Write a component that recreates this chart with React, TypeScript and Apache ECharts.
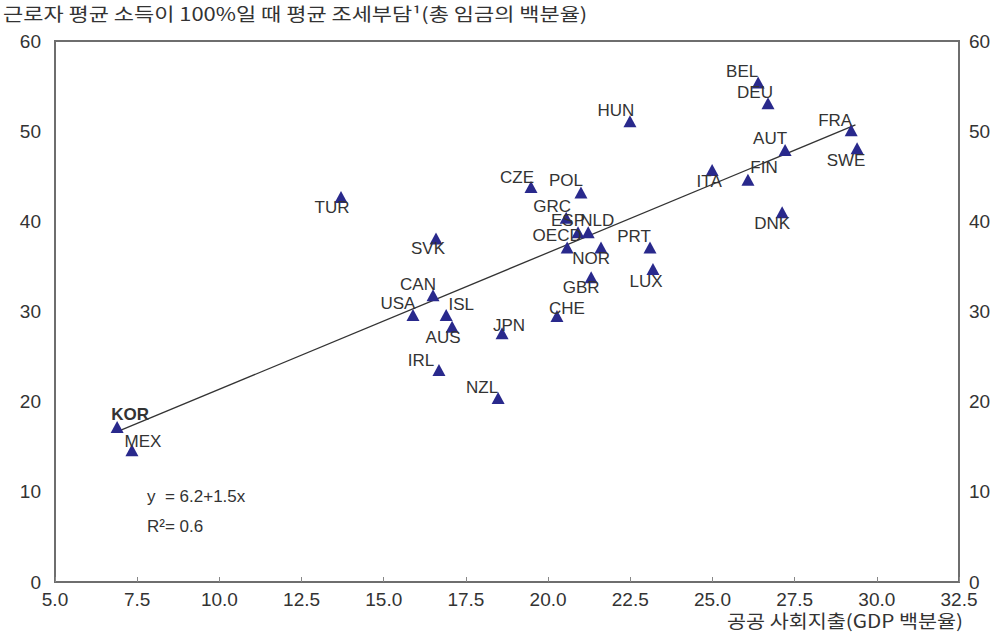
import React, { useEffect, useRef } from "react";
import * as echarts from "echarts";

const countries = ["KOR","MEX","TUR","SVK","CAN","USA","ISL","AUS","JPN","IRL","NZL","CHE","CZE","POL","GRC","ESP","NLD","OECD","NOR","PRT","LUX","GBR","HUN","BEL","DEU","FRA","SWE","AUT","ITA","FIN","DNK"];
const socialSpending = [6.89,7.34,13.70,16.59,16.50,15.89,16.90,17.08,18.60,16.68,18.48,20.27,19.48,21.0,20.55,20.91,21.22,20.58,21.61,23.10,23.19,21.31,22.49,26.39,26.69,29.22,29.40,27.21,24.99,26.08,27.12];
const taxBurden = [17.2,14.6,42.7,38.1,31.8,29.6,29.6,28.3,27.6,23.5,20.4,29.5,43.8,43.2,40.4,38.8,38.8,37.1,37.1,37.1,34.7,33.8,51.1,55.4,53.1,50.1,48.1,47.9,45.7,44.6,41.0];
const trendX = [6.95, 29.35];
const trendY = [16.75, 50.7];
const xTicks = [5, 32.5, 2.5];
const yTicks = [0, 60, 10];

// label offsets (px) of the label centre relative to the marker centre
const labelOffsets: Record<string, [number, number]> = {
  KOR: [13, -12], MEX: [11, -9], TUR: [-9, 11], SVK: [-8, 10], CAN: [-15, -11],
  USA: [-15, -12], ISL: [15, -11], AUS: [-9, 11], JPN: [7, -8], IRL: [-18, -10],
  NZL: [-16, -11], CHE: [10, -8], CZE: [-14, -10], POL: [-15, -12], GRC: [-14, -11],
  ESP: [-10, -12], NLD: [9, -12], OECD: [-10, -12], NOR: [-10, 11], PRT: [-16, -11],
  LUX: [-7, 12], GBR: [-10, 10], HUN: [-14, -11], BEL: [-16, -11], DEU: [-13, -11],
  FRA: [-16, -10], SWE: [-11, 12], AUT: [-15, -12], ITA: [-3, 12], FIN: [16, -12],
  DNK: [-10, 11],
};

const SYM_W = 13;
const SYM_H = 12;
const KFONT = "'Noto Sans CJK KR', 'Noto Sans', sans-serif";
const LFONT = "'Liberation Sans', Arial, sans-serif";

export default function App() {
  const ref = useRef<HTMLDivElement>(null);
  useEffect(() => {
    document.body.style.margin = "0";
    if (!ref.current) return;
    const chart = echarts.init(ref.current, undefined, { renderer: "svg" });
    const points = countries.map((c, i) => {
      const off = labelOffsets[c] || [0, -12];
      return {
        name: c,
        value: [socialSpending[i], taxBurden[i]],
        label: {
          position: [SYM_W / 2 + off[0], SYM_H / 2 + off[1]],
          align: "center",
          verticalAlign: "middle",
          fontWeight: c === "KOR" ? "bold" : "normal",
        },
      };
    });
    const axisLabelStyle = { color: "#333", fontSize: 19, fontFamily: LFONT };
    chart.setOption({
      animation: false,
      backgroundColor: "#fff",
      grid: { left: 55, right: 39, top: 41, bottom: 57, show: true, borderColor: "#6e6e6e", borderWidth: 2, backgroundColor: "transparent" },
      xAxis: {
        type: "value", min: xTicks[0], max: xTicks[1], interval: xTicks[2],
        axisLine: { show: true, onZero: false, lineStyle: { color: "#6e6e6e", width: 2 } },
        axisTick: { show: true, inside: true, length: 5, lineStyle: { color: "#888" } },
        axisLabel: { ...axisLabelStyle, margin: 8, formatter: (v: number) => v.toFixed(1) },
        splitLine: { show: false },
      },
      yAxis: [
        {
          type: "value", min: yTicks[0], max: yTicks[1], interval: yTicks[2], position: "left",
          axisLine: { show: true, lineStyle: { color: "#6e6e6e", width: 2 } },
          axisTick: { show: false },
          axisLabel: { ...axisLabelStyle, margin: 14 },
          splitLine: { show: false },
        },
        {
          type: "value", min: yTicks[0], max: yTicks[1], interval: yTicks[2], position: "right",
          axisLine: { show: true, lineStyle: { color: "#6e6e6e", width: 2 } },
          axisTick: { show: false },
          axisLabel: { ...axisLabelStyle, margin: 10 },
          splitLine: { show: false },
        },
      ],
      graphic: [
        { type: "text", x: 3, y: 4, scaleX: 1.22, style: { text: "근로자 평균 소득이 100%일 때 평균 조세부담¹(총 임금의 백분율)", fill: "#333", font: `18px ${KFONT}` } },
        { type: "text", x: 727, y: 612, scaleX: 1.15, style: { text: "공공 사회지출(GDP 백분율)", fill: "#333", font: `18px ${KFONT}` } },
        { type: "text", x: 147, y: 488, style: { text: "y  = 6.2+1.5x", fill: "#333", font: `17px ${LFONT}` } },
        { type: "text", x: 147, y: 518, style: { text: "R²= 0.6", fill: "#333", font: `17px ${LFONT}` } },
      ],
      series: [
        {
          type: "line",
          data: trendX.map((x, i) => [x, trendY[i]]),
          showSymbol: false,
          symbol: "none",
          lineStyle: { color: "#333", width: 1.3 },
          silent: true,
          z: 3,
        },
        {
          type: "scatter",
          data: points,
          symbol: "triangle",
          symbolSize: [SYM_W, SYM_H],
          itemStyle: { color: "#29298c", opacity: 1 },
          label: {
            show: true,
            formatter: (p: any) => p.name,
            color: "#333",
            fontSize: 17,
            fontFamily: LFONT,
          },
          labelLayout: { hideOverlap: false },
          z: 4,
        },
      ],
    });
    return () => chart.dispose();
  }, []);
  return <div ref={ref} style={{ width: 998, height: 639 }} />;
}
